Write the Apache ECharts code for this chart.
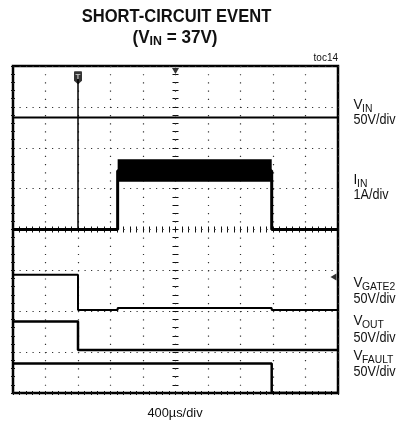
<!DOCTYPE html>
<html><head><meta charset="utf-8">
<script src="https://cdn.jsdelivr.net/npm/echarts@6/dist/echarts.min.js"></script>
<style>html,body{margin:0;padding:0;background:#fff}#c{width:404px;height:425px}</style>
</head><body><div id="c"></div>
<script>
// Screen divisions: 10 horizontal (400us/div), 8 vertical
const xRange = [0, 10];
const yRange = [0, 8];
// Traces (x in divisions, y in divisions from bottom)
const vin = [[0, 6.74], [10, 6.74]];
const iin = [[0, 4.0], [3.22, 4.0], [3.22, 5.44], [7.96, 5.44], [7.96, 4.0], [10, 4.0]];
const iinSpike = [[2.0, 4.0], [2.0, 7.8]];
const iinNoiseBand = [[3.22, 5.17], [7.96, 5.72]];
const vgate2 = [[0, 2.89], [2.0, 2.89], [2.0, 2.03], [3.22, 2.03], [3.22, 2.08], [7.96, 2.08], [7.96, 2.03], [10, 2.03]];
const vout = [[0, 1.75], [2.0, 1.75], [2.0, 1.05], [10, 1.05]];
const vfault = [[0, 0.72], [7.96, 0.72], [7.96, 0.0], [10, 0.0]];
const triggerMark = [[2.0, 7.71]];
const trigPosMark = [[5.0, 7.88]];
const gate2GroundMark = [[9.86, 2.84]];

const chart = echarts.init(document.getElementById('c'), null, {renderer: 'canvas'});
const FF = '"Liberation Sans", Arial, sans-serif';
const G = {left: 13, top: 66, width: 325, height: 327};
const dotH = {color: '#333', width: 1.2, type: [1.2, 5.3]};
const dotV = {color: '#333', width: 1.2, type: [1.2, 6.97]};
function xa(extra) {
  return Object.assign({type: 'value', min: xRange[0], max: xRange[1], interval: 1, gridIndex: 0,
    axisLabel: {show: false}, axisLine: {show: false}, splitLine: {show: false},
    axisTick: {show: false}, minorTick: {show: false}}, extra);
}
function ya(extra) {
  return Object.assign({type: 'value', min: yRange[0], max: yRange[1], interval: 1, gridIndex: 0,
    axisLabel: {show: false}, axisLine: {show: false}, splitLine: {show: false},
    axisTick: {show: false}, minorTick: {show: false}}, extra);
}
const tk = (inside, len) => ({show: true, inside: inside, length: len, lineStyle: {color: '#111', width: 1}});
const mtk = (len) => ({show: true, splitNumber: 5, length: len, lineStyle: {color: '#111', width: 1}});

function lbl(x, y, text, size, sx) {
  return {type: 'text', x: x, y: y, scaleX: sx, style: {text: text, font: size + 'px ' + FF, fill: '#111', verticalAlign: 'middle'}};
}
const SX = 0.9;

const option = {
  animation: false,
  backgroundColor: '#fff',
  grid: [{left: G.left, top: G.top, width: G.width, height: G.height, show: true, borderColor: '#000', borderWidth: 2.5, backgroundColor: 'transparent'}],
  xAxis: [
    xa({position: 'bottom', splitLine: {show: true, lineStyle: dotV}, axisTick: tk(true, 2), minorTick: mtk(2)}),
    xa({position: 'top', axisTick: tk(true, 2), minorTick: mtk(2)}),
    xa({position: 'bottom', offset: -G.height / 2, axisTick: tk(true, 3), minorTick: mtk(3)}),
    xa({position: 'bottom', offset: -G.height / 2, axisTick: tk(false, 3), minorTick: mtk(3)})
  ],
  yAxis: [
    ya({position: 'left', splitLine: {show: true, lineStyle: dotH}, axisTick: tk(true, 2), minorTick: mtk(2)}),
    ya({position: 'right', axisTick: tk(true, 2), minorTick: mtk(2)}),
    ya({position: 'left', offset: -G.width / 2, axisTick: tk(true, 3), minorTick: mtk(3)}),
    ya({position: 'left', offset: -G.width / 2, axisTick: tk(false, 3), minorTick: mtk(3)})
  ],
  series: [
    {type: 'line', data: vin, symbol: 'none', lineStyle: {color: '#000', width: 2}},
    {type: 'line', data: iin, symbol: 'none', lineStyle: {color: '#000', width: 3},
      markArea: {silent: true, itemStyle: {color: '#000'},
        data: [[{coord: iinNoiseBand[0]}, {coord: iinNoiseBand[1]}]]}},
    {type: 'line', data: iinSpike, symbol: 'none', lineStyle: {color: '#000', width: 1.5}},
    {type: 'line', data: vgate2, symbol: 'none', lineStyle: {color: '#000', width: 2}},
    {type: 'line', data: vout, symbol: 'none', lineStyle: {color: '#000', width: 2.5}},
    {type: 'line', data: vfault, symbol: 'none', lineStyle: {color: '#000', width: 2.5}},
    {type: 'scatter', data: triggerMark, symbol: 'path://M1,0 L9,0 Q10,0 10,1 L10,10 L5,14 L0,10 L0,1 Q0,0 1,0 Z', symbolSize: [8, 13],
      itemStyle: {color: '#000'}, z: 5,
      label: {show: true, position: 'inside', formatter: 'T', color: '#fff', fontSize: 8, fontWeight: 'bold', fontFamily: FF, offset: [0, -1]}},
    {type: 'scatter', data: trigPosMark, symbol: 'triangle', symbolRotate: 180, symbolSize: [7, 6], itemStyle: {color: '#000'}, z: 5},
    {type: 'scatter', data: gate2GroundMark, symbol: 'triangle', symbolRotate: 90, symbolSize: [7, 6], itemStyle: {color: '#000'}, z: 5}
  ],
  graphic: [
    {type: 'text', x: 176.5, y: 17.5, scaleX: 0.92, style: {text: 'SHORT-CIRCUIT EVENT', font: 'bold 18px ' + FF, fill: '#111', align: 'center', verticalAlign: 'middle'}},
    {type: 'text', x: 175, y: 38, scaleX: 0.95, style: {text: '{a|(V}{b|IN}{a| = 37V)}', align: 'center', verticalAlign: 'middle', fill: '#111',
      rich: {a: {fontSize: 18, fontWeight: 'bold', fontFamily: FF, fill: '#111', lineHeight: 20},
             b: {fontSize: 13, fontWeight: 'bold', fontFamily: FF, fill: '#111', lineHeight: 20, verticalAlign: 'bottom', padding: [7, 0, 0, 0]}}}},
    {type: 'text', x: 338, y: 58, style: {text: 'toc14', font: '10px ' + FF, fill: '#111', align: 'right', verticalAlign: 'middle'}},
    {type: 'text', x: 175, y: 413, scaleX: 0.95, style: {text: '400µs/div', font: '13.5px ' + FF, fill: '#111', align: 'center', verticalAlign: 'middle'}},
    // right-side channel labels
    lbl(353.5, 105, 'V', 15, SX), lbl(362, 109, 'IN', 11.5, SX), lbl(353.5, 120.5, '50V/div', 14, SX),
    lbl(353.5, 180, 'I', 15, SX), lbl(357, 184, 'IN', 11.5, SX), lbl(353.5, 195.5, '1A/div', 14, SX),
    lbl(353.5, 283, 'V', 15, SX), lbl(362, 287, 'GATE2', 11.5, SX), lbl(353.5, 299.5, '50V/div', 14, SX),
    lbl(353.5, 321, 'V', 15, SX), lbl(362, 325, 'OUT', 11.5, SX), lbl(353.5, 338, '50V/div', 14, SX),
    lbl(353.5, 356, 'V', 15, SX), lbl(362, 360, 'FAULT', 11.5, SX), lbl(353.5, 372.5, '50V/div', 14, SX)
  ]
};
chart.setOption(option);
</script>
</body></html>
